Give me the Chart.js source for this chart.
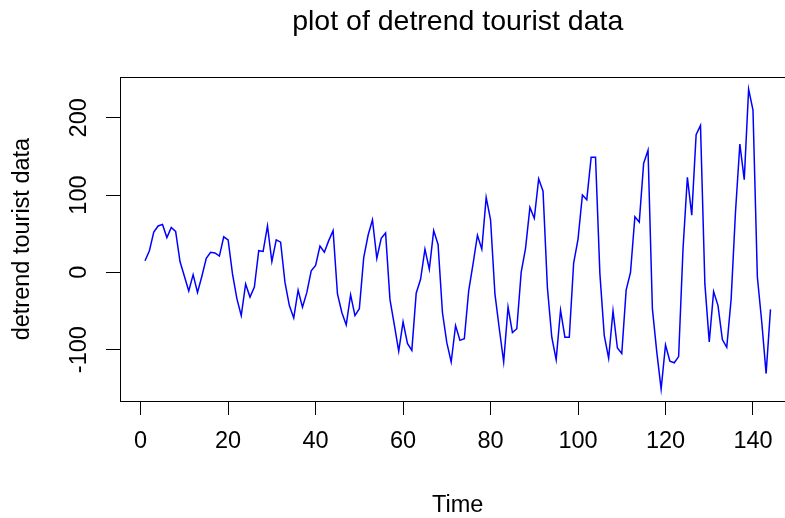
<!DOCTYPE html>
<html>
<head>
<meta charset="utf-8">
<script src="https://cdn.jsdelivr.net/npm/chart.js@4.4.1/dist/chart.umd.min.js"></script>
<style>
    html, body { margin: 0; padding: 0; background: #fff; overflow: hidden; }
    #wrap { width: 800px; height: 518px; }
</style>
</head>
<body>
<div id="wrap"><canvas id="detrend-chart" width="800" height="518"></canvas></div>
<script>
// detrended monthly values, one row per year
const detrendValues = [
    15, 28, 52, 60, 62, 45, 58, 53, 14, -5, -24, -3,
    -26, -5, 18, 26, 25, 21, 46, 42, -2, -34, -56, -15,
    -32, -19, 28, 27, 60, 14, 42, 39, -13, -43, -59, -23,
    -45, -26, 2, 9, 34, 26, 41, 54, -28, -52, -68, -29,
    -56, -47, 19, 48, 68, 18, 44, 51, -35, -68, -102, -64,
    -92, -101, -27, -9, 30, 4, 54, 36, -52, -91, -116, -69,
    -88, -86, -24, 11, 48, 30, 97, 68, -28, -73, -116, -45,
    -78, -73, 0, 31, 84, 70, 121, 105, -20, -84, -113, -49,
    -84, -84, 12, 43, 100, 94, 149, 149, -2, -82, -111, -50,
    -98, -105, -23, 0, 72, 65, 141, 158, -47, -103, -151, -94,
    -115, -117, -109, 30, 123, 74, 178, 190, -15, -90, -25, -43,
    -87, -97, -35, 78, 166, 120, 237, 210, -6, -64, -131, -48,
];
const xTicks = [0, 20, 40, 60, 80, 100, 120, 140];
const yTicks = [-100, 0, 100, 200];

const canvas = document.querySelector("canvas#detrend-chart");
const family = "'Liberation Sans', Arial, sans-serif";
const baseFont = { family: family, size: 23.5, weight: "normal" };

const xMin = -4.72, xMax = 149.72;
const yMin = -166.5, yMax = 252.5;

const points = detrendValues.map((v, i) => ({ x: i + 1, y: v }));

function setTicks(list) {
    return (axis) => {
        axis.ticks = list.map((v) => ({ value: v }));
    };
}

const config = {
    type: "line",
    data: {
        datasets: [
            {
                data: points,
                borderColor: "#0000ff",
                borderWidth: 1.5,
                pointRadius: 0,
                fill: false,
                tension: 0,
            },
        ],
    },
    options: {
        responsive: false,
        animation: false,
        devicePixelRatio: 1,
        layout: { padding: { left: 0, right: 4.5, top: 0, bottom: 0 } },
        plugins: {
            legend: { display: false },
            tooltip: { enabled: false },
            title: {
                display: true,
                text: "plot of detrend tourist data",
                fullSize: false,
                color: "#000",
                font: { family: family, size: 28.5, weight: "normal", lineHeight: 1.2 },
                padding: { top: 5, bottom: 38 },
            },
        },
        scales: {
            x: {
                type: "linear",
                position: "bottom",
                min: xMin,
                max: xMax,
                afterBuildTicks: setTicks(xTicks),
                afterFit: (s) => { s.height = 117; },
                grid: { drawOnChartArea: false, drawTicks: true, tickLength: 14, color: "#000", lineWidth: 1 },
                border: { display: true, color: "#000", width: 1 },
                ticks: { color: "#000", font: baseFont, padding: 12, maxRotation: 0, autoSkip: false },
                title: {
                    display: true,
                    text: "Time",
                    color: "#000",
                    font: { family: family, size: 23.5, weight: "normal", lineHeight: 1 },
                    padding: { top: 0, bottom: 1 },
                },
            },
            xTop: {
                type: "linear",
                position: "top",
                min: xMin,
                max: xMax,
                afterFit: (s) => { s.height = 0; },
                grid: { drawOnChartArea: false, drawTicks: false },
                border: { display: true, color: "#000", width: 1 },
                ticks: { display: false },
            },
            y: {
                type: "linear",
                position: "left",
                min: yMin,
                max: yMax,
                afterBuildTicks: setTicks(yTicks),
                afterFit: (s) => { s.width = 120; },
                grid: { drawOnChartArea: false, drawTicks: true, tickLength: 14, color: "#000", lineWidth: 1 },
                border: { display: true, color: "#000", width: 1 },
                ticks: {
                    color: "#000",
                    font: baseFont,
                    padding: 2.5,
                    minRotation: 90,
                    maxRotation: 90,
                    crossAlign: "center",
                    autoSkip: false,
                },
                title: {
                    display: true,
                    text: "detrend tourist data",
                    color: "#000",
                    font: { family: family, size: 23.5, weight: "normal", lineHeight: 1 },
                    padding: { top: 11, bottom: 0 },
                },
            },
            yRight: {
                type: "linear",
                position: "right",
                min: yMin,
                max: yMax,
                afterFit: (s) => { s.width = 0; },
                grid: { drawOnChartArea: false, drawTicks: false },
                border: { display: true, color: "#000", width: 1 },
                ticks: { display: false },
            },
        },
    },
};

new Chart(canvas, config);
</script>
</body>
</html>
